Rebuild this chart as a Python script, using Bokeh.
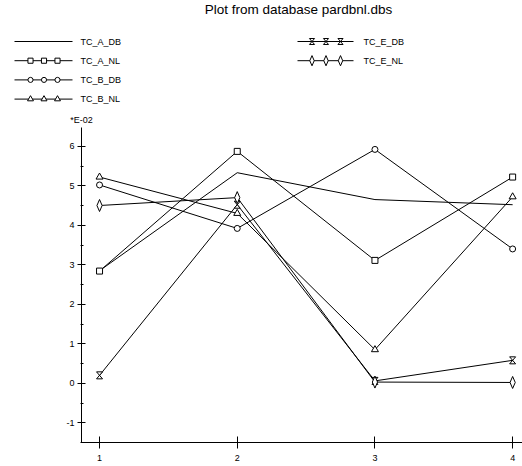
from bokeh.plotting import figure
from bokeh.models import Range1d, FixedTicker, SingleIntervalTicker
from bokeh.core.properties import value
from bokeh.embed import file_html
from bokeh.resources import INLINE

# ---- data ----
x_vals = [1, 2, 3, 4]
series_names = ["TC_A_DB", "TC_A_NL", "TC_B_DB", "TC_B_NL", "TC_E_DB", "TC_E_NL"]
tc_a_db = [2.85, 5.33, 4.65, 4.52]
tc_a_nl = [2.84, 5.87, 3.11, 5.22]
tc_b_db = [5.02, 3.92, 5.92, 3.40]
tc_b_nl = [5.22, 4.30, 0.85, 4.72]
tc_e_db = [0.20, 4.52, 0.06, 0.58]
tc_e_nl = [4.50, 4.70, 0.03, 0.02]
y_tick_vals = [-1, 0, 1, 2, 3, 4, 5, 6]
y_tick_labels = ["-1", "0", "1", "2", "3", "4", "5", "6"]
x_tick_labels = ["1", "2", "3", "4"]
title_text = "Plot from database pardbnl.dbs"
scale_text = "*E-02"

series = [tc_a_db, tc_a_nl, tc_b_db, tc_b_nl, tc_e_db, tc_e_nl]
markers = [None, "square", "circle", "triangle", "hourglass", "tall_diamond"]
msizes = [0, 6, 6, 7, 6, 0]

FONT = "Liberation Sans"

# ---- layout geometry (pixels) ----
W, H = 522, 466
AX_LEFT_PX, AX_BOTTOM_PX = 81, 442
PX_X, PX_Y = 137.7, 39.5          # pixels per data unit
X_AX_MIN, X_AX_MAX = 0.869, 4.072
Y_AX_MIN, Y_AX_MAX = -1.5, 6.475

XR0 = X_AX_MIN - AX_LEFT_PX / PX_X
XR1 = XR0 + W / PX_X
YR1 = Y_AX_MIN + AX_BOTTOM_PX / PX_Y
YR0 = Y_AX_MIN - (H - AX_BOTTOM_PX) / PX_Y


def fx(px):
    return XR0 + px / PX_X


def fy(py):
    return YR1 - py / PX_Y


p = figure(width=W, height=H, x_range=Range1d(XR0, XR1), y_range=Range1d(YR0, YR1),
           output_backend="svg", toolbar_location=None,
           min_border=0, min_border_left=0, min_border_right=0,
           min_border_top=0, min_border_bottom=0)
p.grid.visible = False
p.outline_line_color = None


def draw_markers(xs, ys, kind, size, scale=1.0):
    if kind is None:
        return
    if kind == "hourglass":
        dx, dy = 3.0 * scale / PX_X, 3.5 * scale / PX_Y
        pxs = [[a - dx, a + dx, a - dx, a + dx] for a in xs]
        pys = [[b + dy, b + dy, b - dy, b - dy] for b in ys]
        p.patches(pxs, pys, line_color="black", fill_color="white", line_width=1)
    elif kind == "tall_diamond":
        dx, dy = 2.6 * scale / PX_X, 6.0 * scale / PX_Y
        pxs = [[a, a + dx, a, a - dx] for a in xs]
        pys = [[b + dy, b, b - dy, b] for b in ys]
        p.patches(pxs, pys, line_color="black", fill_color="white", line_width=1)
    else:
        p.scatter(xs, ys, marker=kind, size=size * scale, line_color="black",
                  fill_color="white", line_width=1)


# data series
for i, ys in enumerate(series):
    p.line(x_vals, ys, line_color="black", line_width=1)
    draw_markers(x_vals, ys, markers[i], msizes[i])

# title and scale note
p.text(x=[fx(298)], y=[fy(9)], text=[title_text], text_font=value(FONT), text_font_size="13.5px",
       text_align="center", text_baseline="middle", text_color="black")
p.text(x=[fx(81)], y=[fy(119)], text=[scale_text], text_font=value(FONT), text_font_size="9px",
       text_align="center", text_baseline="middle", text_color="black")

# legend
for i, name in enumerate(series_names):
    col = 0 if i < 4 else 1
    row = i if i < 4 else i - 4
    yy = fy(41 + row * 19.2)
    x0, x1 = [(14, 72), (297, 353)][col]
    tx = [80, 363][col]
    mx = [[30, 43.5, 57], [311.5, 325.5, 340]][col]
    p.segment(x0=[fx(x0)], y0=[yy], x1=[fx(x1)], y1=[yy], line_color="black", line_width=1)
    draw_markers([fx(m) for m in mx], [yy] * 3, markers[i], msizes[i], scale=0.85)
    p.text(x=[fx(tx)], y=[yy], text=[name], text_font=value(FONT), text_font_size="9px",
           text_align="left", text_baseline="middle", text_color="black")

# axes
p.xaxis.fixed_location = Y_AX_MIN
p.yaxis.fixed_location = X_AX_MIN
p.xaxis.bounds = (X_AX_MIN, X_AX_MAX)
p.yaxis.bounds = (Y_AX_MIN, Y_AX_MAX)

p.xaxis.ticker = FixedTicker(ticks=x_vals)
p.xaxis.major_label_overrides = {v: l for v, l in zip(x_vals, x_tick_labels)}
p.xaxis.major_tick_in = 6
p.xaxis.major_tick_out = 6
p.xaxis.minor_tick_in = 0
p.xaxis.minor_tick_out = 0
p.xaxis.major_label_standoff = 6

p.yaxis.ticker = SingleIntervalTicker(interval=1, num_minor_ticks=2)
p.yaxis.major_label_overrides = {v: l for v, l in zip(y_tick_vals, y_tick_labels)}
p.yaxis.major_tick_in = 4
p.yaxis.major_tick_out = 4
p.yaxis.minor_tick_in = 2
p.yaxis.minor_tick_out = 1
p.yaxis.major_label_standoff = 3

for ax in [p.xaxis[0], p.yaxis[0]]:
    ax.axis_line_color = "black"
    ax.major_tick_line_color = "black"
    ax.minor_tick_line_color = "black"
    ax.major_label_text_font = FONT
    ax.major_label_text_font_size = "9px"
    ax.major_label_text_color = "black"

open("out.html", "w").write(file_html(p, INLINE))
